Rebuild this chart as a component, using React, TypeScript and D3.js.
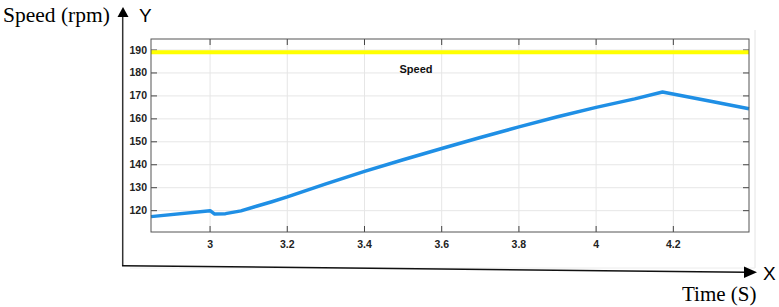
import React from "react";
import * as d3 from "d3";

const times = [2.847, 3.0, 3.012, 3.04, 3.08, 3.12, 3.16, 3.2, 3.3, 3.4, 3.5, 3.6, 3.7, 3.8, 3.9, 4.0, 4.1, 4.172, 4.3, 4.396];
const speed = [117.4, 120.0, 118.5, 118.7, 119.9, 121.9, 123.9, 126.0, 131.7, 137.1, 142.2, 147.1, 151.9, 156.5, 160.9, 165.0, 168.7, 171.7, 167.6, 164.4];
const refTimes = [2.847, 4.396];
const refSpeed = [189, 189];
const xTicks = [3, 3.2, 3.4, 3.6, 3.8, 4, 4.2];
const yTicks = [120, 130, 140, 150, 160, 170, 180, 190];
const xDomain = [2.847, 4.396];
const yDomain = [110.7, 194.8];

export default function App() {
  const W = 779, H = 307;
  const left = 151, right = 749, top = 39, bottom = 232;
  const x = d3.scaleLinear().domain(xDomain).range([left, right]);
  const y = d3.scaleLinear().domain(yDomain).range([bottom, top]);
  const line = d3.line<number>().x((d, i) => x(times[i])).y((d) => y(d));
  const refLine = d3.line<number>().x((d, i) => x(refTimes[i])).y((d) => y(d));
  const tickFont = "'Liberation Sans', Arial, sans-serif";
  const serif = "'Liberation Serif', 'Times New Roman', serif";
  return (
    <svg width={W} height={H} style={{ position: "absolute", left: 0, top: 0, background: "#fff" }}>
      <line x1={755} y1={30} x2={755} y2={268} stroke="#e4e4e4" strokeWidth={1} />
      <line x1={130} y1={268} x2={755} y2={268} stroke="#ececec" strokeWidth={1} />
      {xTicks.map((t) => (
        <line key={"gx" + t} x1={x(t)} x2={x(t)} y1={top} y2={bottom} stroke="#e6e6e6" strokeWidth={1} />
      ))}
      {yTicks.map((t) => (
        <line key={"gy" + t} x1={left} x2={right} y1={y(t)} y2={y(t)} stroke="#e6e6e6" strokeWidth={1} />
      ))}
      {xTicks.map((t) => (
        <g key={"tx" + t}>
          <line x1={x(t)} x2={x(t)} y1={bottom} y2={bottom - 6} stroke="#444" />
          <line x1={x(t)} x2={x(t)} y1={top} y2={top + 6} stroke="#444" />
          <text x={x(t)} y={bottom + 16} textAnchor="middle" fontFamily={tickFont} fontWeight="bold" fontSize={10.5} fill="#222">
            {String(t)}
          </text>
        </g>
      ))}
      {yTicks.map((t) => (
        <g key={"ty" + t}>
          <line x1={left} x2={left + 6} y1={y(t)} y2={y(t)} stroke="#444" />
          <line x1={right} x2={right - 6} y1={y(t)} y2={y(t)} stroke="#444" />
          <text x={left - 4} y={y(t) + 3.5} textAnchor="end" fontFamily={tickFont} fontWeight="bold" fontSize={10.5} fill="#222">
            {t}
          </text>
        </g>
      ))}
      <path d={refLine(refSpeed) || ""} fill="none" stroke="#ffff00" strokeWidth={4} />
      <path d={line(speed) || ""} fill="none" stroke="#1f8fe5" strokeWidth={3.5} strokeLinejoin="round" />
      <rect x={left} y={top} width={right - left} height={bottom - top} fill="none" stroke="#555" strokeWidth={1} />
      <text x={416} y={73} textAnchor="middle" fontFamily={tickFont} fontWeight="bold" fontSize={11} fill="#111">Speed</text>
      <line x1={122.7} y1={14} x2={122.7} y2={266} stroke="#333" strokeWidth={1.5} />
      <path d="M117.5,17 L123,7 L128.5,17 Z" fill="#000" />
      <line x1={122} y1={265.7} x2={746} y2={272.2} stroke="#111" strokeWidth={1.5} />
      <path d="M744,266.5 L757,272.3 L744,278 Z" fill="#000" />
      <text x={3} y={22} fontFamily={serif} fontSize={21.5} fill="#000">Speed (rpm)</text>
      <text x={139} y={22} fontFamily={tickFont} fontSize={19} fill="#000">Y</text>
      <text x={763} y={280} fontFamily={tickFont} fontSize={19} fill="#000">X</text>
      <text x={682} y={301} fontFamily={serif} fontSize={21} fill="#000">Time (S)</text>
    </svg>
  );
}
